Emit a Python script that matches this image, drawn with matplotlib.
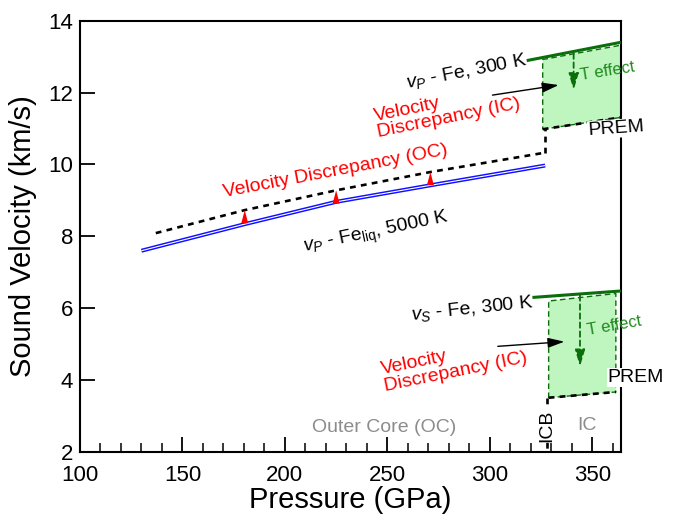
import numpy as np
import matplotlib
matplotlib.use('Agg')
import matplotlib.pyplot as plt
from matplotlib.ticker import MultipleLocator

plt.rcParams['font.family'] = ['Liberation Sans', 'DejaVu Sans']
plt.rcParams['mathtext.fontset'] = 'custom'
plt.rcParams['mathtext.rm'] = 'Liberation Sans'
plt.rcParams['mathtext.it'] = 'Liberation Sans:italic'

# ---------------- data ----------------
# liquid Fe vP at 5000 K (outer core)
p_liq = [130, 180.4, 225, 271, 327]
vp_liq = [7.60, 8.34, 8.96, 9.42, 9.97]
# PREM vP outer core
p_prem_oc = [137, 180.4, 225, 271, 327.1]
vp_prem_oc = [8.09, 8.73, 9.28, 9.79, 10.33]
# discrepancy arrows (OC)
p_disc = [180.4, 225, 271]
v_disc_base = [8.34, 8.96, 9.42]
v_disc_tip = [8.73, 9.28, 9.79]
# ICB jump of PREM vP
p_icb_p = [327.1, 327.1]
vp_icb = [10.33, 10.98]
# PREM vP inner core
p_ic_p = [325.8, 364]
vp_prem_ic = [10.98, 11.31]
vp_fill_top = [12.92, 13.32]
# vP Fe 300 K
p_fe_p = [318, 364]
vp_fe300 = [12.89, 13.40]
# T effect arrow (vP)
p_teff_p = [340.9, 340.9]
v_teff_p = [13.09, 12.07]
# discrepancy arrow (IC, vP)
p_dic_p = [301.3, 333.6]
v_dic_p = [11.93, 12.21]

# vS inner core
p_ic_s = [328.7, 361.5]
vs_prem_ic = [3.51, 3.67]
vs_fill_top = [6.20, 6.41]
p_fe_s = [320.8, 364]
vs_fe300 = [6.30, 6.48]
p_icb_s = [327.7, 327.7]
vs_icb = [3.51, 2.0]
p_teff_s = [344.0, 344.0]
v_teff_s = [6.36, 4.38]
p_dic_s = [303.9, 336.4]
v_dic_s = [4.94, 5.07]

x_ticks = [100, 150, 200, 250, 300, 350]
y_ticks = [2, 4, 6, 8, 10, 12, 14]

# ---------------- style ----------------
GREEN = '#0a6e0a'
FILL = '#bff5bf'
TGREEN = '#1f8a1f'
GRAY = '#8c8c8c'

fig = plt.figure(figsize=(6.76, 5.19), dpi=100)
ax = fig.add_axes([0.1183, 0.1291, 0.8003, 0.831])

# outer core lines
ax.plot(p_liq, vp_liq, color='#1010ff', lw=2.9, solid_capstyle='butt', zorder=3)
ax.plot(p_liq, vp_liq, color='white', lw=0.8, solid_capstyle='butt', zorder=4)
ax.plot(p_prem_oc, vp_prem_oc, color='black', lw=1.9, ls=(0, (2.2, 2.0)), zorder=3)
ax.plot(p_icb_p, vp_icb, color='black', lw=1.9, ls=(0, (2.2, 2.0)), zorder=3)
for p, vb, vt in zip(p_disc, v_disc_base, v_disc_tip):
    ax.annotate('', xy=(p, vt), xytext=(p, vb),
                arrowprops=dict(arrowstyle='-|>,head_length=0.95,head_width=0.25',
                                color='red', lw=0, shrinkA=0, shrinkB=0), zorder=5)

# inner core vP region
xs = [p_ic_p[0], p_ic_p[1], p_ic_p[1], p_ic_p[0]]
ys = [vp_prem_ic[0], vp_prem_ic[1], vp_fill_top[1], vp_fill_top[0]]
ax.fill(xs, ys, facecolor=FILL, edgecolor=GREEN, lw=1.0, ls=(0, (4, 2.5)), zorder=2)
ax.plot(p_ic_p, vp_prem_ic, color='black', lw=1.9, ls=(0, (2.2, 2.0)), zorder=3)
ax.plot(p_fe_p, vp_fe300, color=GREEN, lw=2.2, solid_capstyle='butt', zorder=4)
ax.annotate('', xy=(p_teff_p[0], v_teff_p[1]), xytext=(p_teff_p[0], v_teff_p[0]),
            arrowprops=dict(arrowstyle='-|>,head_length=1.0,head_width=0.3',
                            color=GREEN, lw=1.3, ls=(0, (3, 2)), shrinkA=0, shrinkB=0), zorder=5)
ax.annotate('', xy=(p_dic_p[1], v_dic_p[1]), xytext=(p_dic_p[0], v_dic_p[0]),
            arrowprops=dict(arrowstyle='-|>,head_length=1.0,head_width=0.3',
                            color='black', lw=1.0, shrinkA=0, shrinkB=0), zorder=5)

# inner core vS region
xs = [p_ic_s[0], p_ic_s[1], p_ic_s[1], p_ic_s[0]]
ys = [vs_prem_ic[0], vs_prem_ic[1], vs_fill_top[1], vs_fill_top[0]]
ax.fill(xs, ys, facecolor=FILL, edgecolor=GREEN, lw=1.0, ls=(0, (4, 2.5)), zorder=2)
ax.plot(p_ic_s, vs_prem_ic, color='black', lw=1.9, ls=(0, (2.2, 2.0)), zorder=3)
ax.plot(p_icb_s, vs_icb, color='black', lw=1.9, ls=(0, (2.2, 2.0)), zorder=3)
ax.plot(p_fe_s, vs_fe300, color=GREEN, lw=2.2, solid_capstyle='butt', zorder=4)
ax.annotate('', xy=(p_teff_s[0], v_teff_s[1]), xytext=(p_teff_s[0], v_teff_s[0]),
            arrowprops=dict(arrowstyle='-|>,head_length=1.0,head_width=0.3',
                            color=GREEN, lw=1.3, ls=(0, (3, 2)), shrinkA=0, shrinkB=0), zorder=5)
ax.annotate('', xy=(p_dic_s[1], v_dic_s[1]), xytext=(p_dic_s[0], v_dic_s[0]),
            arrowprops=dict(arrowstyle='-|>,head_length=1.0,head_width=0.3',
                            color='black', lw=1.0, shrinkA=0, shrinkB=0), zorder=5)

# ---------------- text ----------------
kw = dict(ha='center', va='center', rotation_mode='anchor')
ax.text(288.8, 12.58, r'$v_P$ - Fe, 300 K', fontsize=14, rotation=11, **kw)
ax.text(279.3, 11.51, 'Velocity\nDiscrepancy (IC)', fontsize=14, color='red',
        rotation=11.5, multialignment='left', linespacing=1.0, **kw)
ax.text(224.8, 9.80, 'Velocity Discrepancy (OC)', fontsize=14, color='red', rotation=10.8, **kw)
ax.text(244.7, 8.08, r'$v_P$ - Fe$_\mathrm{liq}$, 5000 K', fontsize=14, rotation=11.8, **kw)
ax.text(357.4, 12.6, 'T effect', fontsize=12, color=TGREEN, rotation=9, zorder=6, **kw)
ax.text(361.7, 11.0, 'PREM', fontsize=14, rotation=4, zorder=6,
        bbox=dict(facecolor='white', edgecolor='none', pad=0.5), **kw)

ax.text(291.4, 6.0, r'$v_S$ - Fe, 300 K', fontsize=14, rotation=6, **kw)
ax.text(282.7, 4.46, 'Velocity\nDiscrepancy (IC)', fontsize=14, color='red',
        rotation=11.5, multialignment='left', linespacing=1.0, **kw)
ax.text(360.7, 5.52, 'T effect', fontsize=12, color=TGREEN, rotation=10, zorder=6, **kw)
ax.text(371.2, 4.07, 'PREM', fontsize=14, zorder=6,
        bbox=dict(facecolor='white', edgecolor='none', pad=0.5), **kw)

ax.text(248.6, 2.68, 'Outer Core (OC)', fontsize=14, color=GRAY, **kw)
ax.text(347.6, 2.75, 'IC', fontsize=14, color=GRAY, **kw)
ax.text(327.6, 2.73, 'ICB', fontsize=14, rotation=90, zorder=6,
        bbox=dict(facecolor='white', edgecolor='none', pad=0.3), **kw)

# ---------------- axes ----------------
ax.set_xlim(100, 364)
ax.set_ylim(2, 14)
ax.set_xticks(x_ticks)
ax.set_yticks(y_ticks)
ax.xaxis.set_minor_locator(MultipleLocator(10))
ax.tick_params(which='major', direction='in', length=11, width=1.3, labelsize=16,
               top=False, right=False)
ax.tick_params(which='minor', direction='in', length=6.5, width=1.1, top=False, right=False)
ax.tick_params(axis='y', pad=5)
ax.tick_params(axis='x', pad=9.5)
for s in ax.spines.values():
    s.set_linewidth(1.5)
ax.set_xlabel('Pressure (GPa)', fontsize=21, labelpad=0)
ax.set_ylabel('Sound Velocity (km/s)', fontsize=21, labelpad=8)

fig.savefig('out.png', dpi=100)
